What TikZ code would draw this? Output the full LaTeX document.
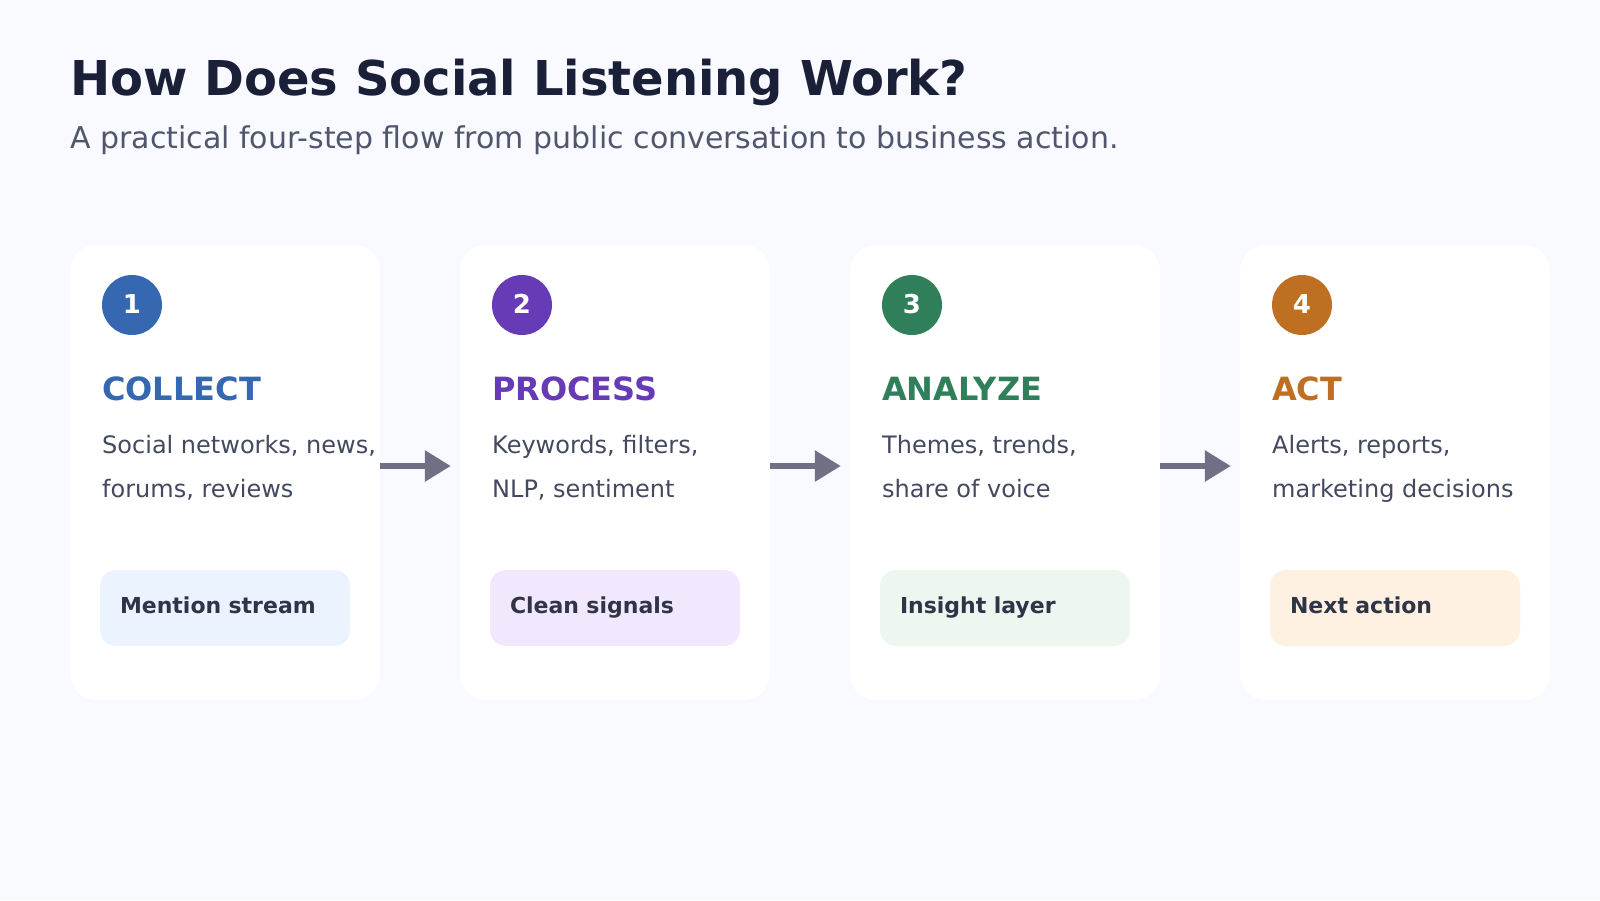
\documentclass[tikz,border=0pt]{standalone}
\usepackage{fontspec}
\setmainfont{DejaVu Sans}
\usepackage{tikz}
\usetikzlibrary{arrows.meta}
\definecolor{pagebg}{HTML}{F8FAFF}
\definecolor{titleink}{HTML}{1B2039}
\definecolor{subink}{HTML}{50576C}
\definecolor{bodyink}{HTML}{434A5F}
\definecolor{pillink}{HTML}{2F3448}
\definecolor{flowgray}{HTML}{6F7084}
\definecolor{stepblue}{HTML}{3568B0}
\definecolor{steppurple}{HTML}{683BB6}
\definecolor{stepgreen}{HTML}{2F7F5B}
\definecolor{steporange}{HTML}{BF6F22}
\definecolor{pillblue}{HTML}{EBF3FE}
\definecolor{pillpurple}{HTML}{F1E8FD}
\definecolor{pillgreen}{HTML}{EDF7EF}
\definecolor{pillorange}{HTML}{FEF1E1}
\tikzset{
  card/.style={fill=white, rounded corners=26pt, minimum width=310pt, minimum height=455pt, inner sep=0pt},
  badge/.style={circle, fill=#1, minimum size=60pt, inner sep=0pt, text=white, text height=19pt, text depth=3pt,
    font=\bfseries\fontsize{26}{26}\selectfont},
  stephead/.style={anchor=base west, inner sep=0pt, text=#1, font=\bfseries\fontsize{32}{32}\selectfont},
  stepdesc/.style={anchor=base west, inner sep=0pt, align=left, text=bodyink, font=\fontsize{24}{44}\selectfont},
  pill/.style={fill=#1, rounded corners=16pt, minimum width=250pt, minimum height=76pt, inner xsep=20pt, inner ysep=0pt,
    text width=210pt, align=left, text height=16pt, text depth=6pt, text=pillink, font=\bfseries\fontsize{22}{22}\selectfont},
  flow/.style={line width=6pt, flowgray, -{Triangle[length=26pt, width=30pt]}, shorten >=9pt}
}
\begin{document}
\begin{tikzpicture}[x=1pt, y=-1pt]
    \fill[pagebg] (0,0) rectangle (1600,900);
    \useasboundingbox (0,0) rectangle (1600,900);
    \node[anchor=base west, inner sep=0pt, text=titleink, font=\bfseries\fontsize{48}{48}\selectfont] (title) at (70,95) {How Does Social Listening Work?};
    \node[anchor=base west, inner sep=0pt, text=subink, font=\fontsize{30}{30}\selectfont] (subtitle) at (70,148) {A practical four-step flow from public conversation to business action.};
    % step 1
    \node[card] (c1) at (225,472.5) {};
    \node[badge=stepblue] (n1) at (132,305) {1};
    \node[stephead=stepblue] (h1) at (102,400) {COLLECT};
    \node[stepdesc] (d1) at (102,497) {Social networks, news,\\forums, reviews};
    \node[pill=pillblue] (p1) at (225,608) {Mention stream};
    % step 2
    \node[card] (c2) at (615,472.5) {};
    \node[badge=steppurple] (n2) at (522,305) {2};
    \node[stephead=steppurple] (h2) at (492,400) {PROCESS};
    \node[stepdesc] (d2) at (492,497) {Keywords, filters,\\NLP, sentiment};
    \node[pill=pillpurple] (p2) at (615,608) {Clean signals};
    % step 3
    \node[card] (c3) at (1005,472.5) {};
    \node[badge=stepgreen] (n3) at (912,305) {3};
    \node[stephead=stepgreen] (h3) at (882,400) {ANALYZE};
    \node[stepdesc] (d3) at (882,497) {Themes, trends,\\share of voice};
    \node[pill=pillgreen] (p3) at (1005,608) {Insight layer};
    % step 4
    \node[card] (c4) at (1395,472.5) {};
    \node[badge=steporange] (n4) at (1302,305) {4};
    \node[stephead=steporange] (h4) at (1272,400) {ACT};
    \node[stepdesc] (d4) at (1272,497) {Alerts, reports,\\marketing decisions};
    \node[pill=pillorange] (p4) at (1395,608) {Next action};
    % arrows
    \draw[flow] ([yshift=6.5pt]c1.east) -- ([yshift=6.5pt]c2.west);
    \draw[flow] ([yshift=6.5pt]c2.east) -- ([yshift=6.5pt]c3.west);
    \draw[flow] ([yshift=6.5pt]c3.east) -- ([yshift=6.5pt]c4.west);
  \end{tikzpicture}
\end{document}
